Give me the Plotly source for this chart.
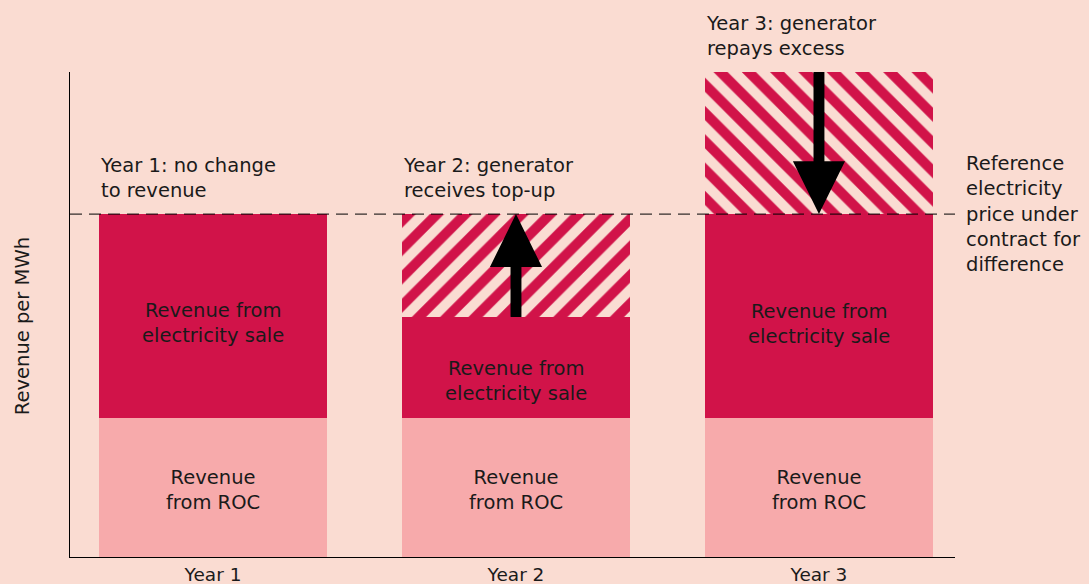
import plotly.graph_objects as go

# ---- data (revenue per MWh, arbitrary units) ----
years = ["Year 1", "Year 2", "Year 3"]
roc = [28.7, 28.7, 28.7]
electricity = [42.0, 20.8, 42.0]
top_up = [0.0, 21.2, 0.0]
excess = [0.0, 0.0, 29.3]
reference_price = 70.7

BG = "#FADCD2"
CRIMSON = "#D11349"
PINK = "#F7AAAB"
TXT = "#1a1a1a"
FONT = "DejaVu Sans"

xpos = list(range(len(years)))
bar_w = 0.752

fig = go.Figure()
fig.add_trace(go.Bar(x=xpos, y=roc, width=bar_w, marker=dict(color=PINK, line=dict(width=0)),
                     hoverinfo="skip", showlegend=False))
fig.add_trace(go.Bar(x=xpos, y=electricity, width=bar_w, marker=dict(color=CRIMSON, line=dict(width=0)),
                     hoverinfo="skip", showlegend=False))
fig.add_trace(go.Bar(x=xpos, y=top_up, width=bar_w,
                     marker=dict(color=CRIMSON, line=dict(width=0),
                                 pattern=dict(shape="/", fgcolor=CRIMSON, bgcolor=BG, fgopacity=1,
                                              size=20, solidity=0.5)),
                     hoverinfo="skip", showlegend=False))
fig.add_trace(go.Bar(x=xpos, y=excess, width=bar_w,
                     marker=dict(color=CRIMSON, line=dict(width=0),
                                 pattern=dict(shape="\\", fgcolor=CRIMSON, bgcolor=BG, fgopacity=1,
                                              size=20, solidity=0.5)),
                     hoverinfo="skip", showlegend=False))

# reference price dashed line
fig.add_shape(type="line", xref="paper", x0=0, x1=1, yref="y", y0=reference_price, y1=reference_price,
              line=dict(color="black", width=1, dash="12px,7px"))

# arrows built from the data
sw, hw, hl = 0.018, 0.086, 10.9
def arrow(xc, y_from, y_to):
    d = 1 if y_to > y_from else -1
    yb = y_to - d * hl
    pts = [(xc - sw, y_from), (xc - sw, yb), (xc - hw, yb), (xc, y_to),
           (xc + hw, yb), (xc + sw, yb), (xc + sw, y_from)]
    return "M " + " L ".join(f"{px},{py}" for px, py in pts) + " Z"

for i in range(len(years)):
    base_top = roc[i] + electricity[i]
    if top_up[i] > 0:
        fig.add_shape(type="path", xref="x", yref="y", path=arrow(xpos[i], base_top, reference_price),
                      fillcolor="black", line=dict(width=0))
    if excess[i] > 0:
        fig.add_shape(type="path", xref="x", yref="y", path=arrow(xpos[i], base_top + excess[i], reference_price),
                      fillcolor="black", line=dict(width=0))

ann = []
# segment labels
elec_shift = [-7, -14, -8]
for i in range(len(years)):
    ann.append(dict(x=xpos[i], y=roc[i] / 2, text="Revenue<br>from ROC", showarrow=False,
                    yshift=-2.5, font=dict(size=19.5, color=TXT, family=FONT)))
    ann.append(dict(x=xpos[i], y=roc[i] + electricity[i] / 2, text="Revenue from<br>electricity sale",
                    showarrow=False, yshift=elec_shift[i], font=dict(size=19.5, color=TXT, family=FONT)))

# year notes
notes = ["Year 1: no change<br>to revenue", "Year 2: generator<br>receives top-up",
         "Year 3: generator<br>repays excess"]
for i in range(len(years)):
    top = roc[i] + electricity[i] + top_up[i] + excess[i]
    ann.append(dict(x=xpos[i] - bar_w / 2, y=max(top, reference_price), text=notes[i], showarrow=False,
                    xanchor="left", yanchor="bottom", align="left", xshift=-1, yshift=10,
                    font=dict(size=19.5, color=TXT, family=FONT)))

ann.append(dict(xref="paper", x=1, y=reference_price, text="Reference<br>electricity<br>price under<br>contract for<br>difference",
                showarrow=False, xanchor="left", yanchor="middle", align="left", xshift=9,
                font=dict(size=19.5, color=TXT, family=FONT)))

ann.append(dict(xref="paper", yref="paper", x=0, y=0.476, text="Revenue per MWh", textangle=-90,
                showarrow=False, xanchor="center", yanchor="middle", xshift=-48,
                font=dict(size=19.5, color=TXT, family=FONT)))

fig.update_layout(
    width=1089, height=584,
    paper_bgcolor=BG, plot_bgcolor=BG,
    margin=dict(l=70, r=134, t=72, b=27, pad=0, autoexpand=False),
    barmode="stack", bargap=0,
    annotations=ann,
    font=dict(family=FONT, color=TXT),
    xaxis=dict(range=[-0.472, 2.449], tickvals=xpos, ticktext=years, showgrid=False, zeroline=False,
               showline=True, linecolor="black", linewidth=1, ticks="", automargin=False,
               ticklabelstandoff=1,
               tickfont=dict(size=18.5, color=TXT, family=FONT)),
    yaxis=dict(range=[0, 100], showgrid=False, zeroline=False, showline=True, linecolor="black",
               linewidth=1, showticklabels=False, ticks="", automargin=False),
)

fig.write_html("out.html", config={"displayModeBar": False},
               post_script="document.body.style.margin='0';document.body.style.background='%s';" % BG)
